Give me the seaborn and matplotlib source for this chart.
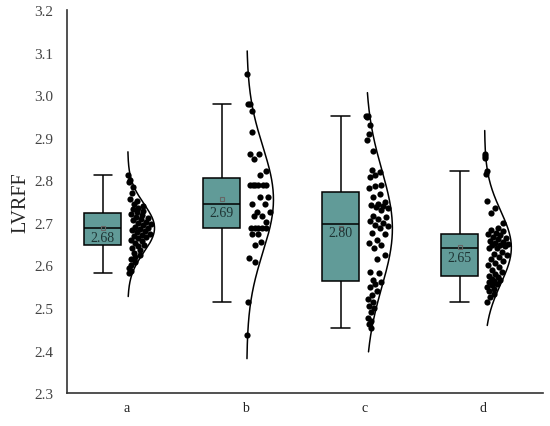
import numpy as np
import pandas as pd
import matplotlib
matplotlib.use('Agg')
import matplotlib.pyplot as plt
import seaborn as sns

# values
groups = ['a', 'b', 'c', 'd']
vals_a = [2.812, 2.800, 2.795, 2.785, 2.770, 2.755, 2.751, 2.744, 2.740, 2.735,
          2.733, 2.728, 2.725, 2.722, 2.718, 2.715, 2.712, 2.710, 2.706, 2.703,
          2.700, 2.697, 2.694, 2.690, 2.688, 2.686, 2.684, 2.681, 2.678, 2.675,
          2.672, 2.670, 2.667, 2.664, 2.660, 2.657, 2.652, 2.648, 2.645, 2.640,
          2.636, 2.630, 2.625, 2.620, 2.614, 2.607, 2.600, 2.594, 2.588, 2.582]
vals_b = [3.049, 2.980, 2.980, 2.964, 2.913, 2.861, 2.861, 2.849, 2.823, 2.812,
          2.789, 2.789, 2.789, 2.789, 2.789, 2.789, 2.761, 2.761, 2.744, 2.744,
          2.726, 2.726, 2.716, 2.716, 2.703, 2.689, 2.689, 2.689, 2.689, 2.689,
          2.673, 2.673, 2.654, 2.648, 2.617, 2.607, 2.515, 2.436]
vals_c = [2.951, 2.950, 2.948, 2.931, 2.910, 2.895, 2.870, 2.825, 2.820, 2.812,
          2.808, 2.790, 2.787, 2.782, 2.769, 2.762, 2.748, 2.745, 2.742, 2.740,
          2.738, 2.735, 2.731, 2.716, 2.714, 2.710, 2.705, 2.700, 2.696, 2.693,
          2.688, 2.677, 2.674, 2.660, 2.652, 2.649, 2.640, 2.625, 2.615, 2.585,
          2.582, 2.565, 2.560, 2.556, 2.550, 2.540, 2.530, 2.520, 2.515, 2.505,
          2.500, 2.490, 2.477, 2.470, 2.462, 2.452]
vals_d = [2.862, 2.858, 2.852, 2.822, 2.815, 2.751, 2.735, 2.723, 2.700, 2.688,
          2.684, 2.680, 2.677, 2.675, 2.672, 2.668, 2.665, 2.662, 2.658, 2.655,
          2.653, 2.651, 2.649, 2.647, 2.645, 2.642, 2.640, 2.632, 2.628, 2.625,
          2.620, 2.615, 2.610, 2.605, 2.600, 2.596, 2.590, 2.585, 2.580, 2.575,
          2.572, 2.569, 2.566, 2.563, 2.560, 2.557, 2.554, 2.550, 2.545, 2.540,
          2.534, 2.525, 2.514]
box_labels = ['2.68', '2.69', '2.80', '2.65']
y_ticks = [2.3, 2.4, 2.5, 2.6, 2.7, 2.8, 2.9, 3.0, 3.1, 3.2]

all_vals = [vals_a, vals_b, vals_c, vals_d]
df = pd.concat([pd.DataFrame({'group': g, 'LVRFF': v}) for g, v in zip(groups, all_vals)],
               ignore_index=True)
df['pos'] = df['group'].map({g: i for i, g in enumerate(groups)}) - 0.2

sns.set_style('white')
plt.rcParams['font.family'] = ['Liberation Serif', 'DejaVu Serif']

fig = plt.figure(figsize=(5.5, 4.27), dpi=100)
ax = fig.add_axes([0.122, 0.077, 0.865, 0.897])

box_color = '#619b98'
sns.boxplot(data=df, x='pos', y='LVRFF', orient='x', native_scale=True, width=0.31,
            color=box_color, saturation=1, linecolor='black', linewidth=1.1,
            showfliers=False, showmeans=True,
            meanprops=dict(marker='s', markerfacecolor='none', markeredgecolor='#666666',
                           markersize=3.5, markeredgewidth=0.8),
            ax=ax)

# half "cloud" curves and dots
half_w = 0.225
margin = 0.055
golden = 0.6180339887
for i, v in enumerate(all_vals):
    v = np.asarray(v)
    m, s = v.mean(), v.std(ddof=1)
    yy = np.linspace(v.min() - margin, v.max() + margin, 300)
    pdf = np.exp(-0.5 * ((yy - m) / s) ** 2)
    ax.plot(i + 0.01 + half_w * pdf, yy, color='black', lw=1.1)
    dens = np.exp(-0.5 * ((v - m) / s) ** 2)
    frac = 0.12 + 0.78 * ((np.arange(len(v)) * golden) % 1.0)
    xs = i + 0.01 + frac * half_w * dens
    ax.scatter(xs, v, s=20, color='black', linewidths=0, zorder=3)

    med = np.median(v)
    ax.annotate(box_labels[i], (i - 0.2, med), xytext=(0, -1.5), textcoords='offset points',
                ha='center', va='top', fontsize=10, color='#1e3434', zorder=4)

ax.set_xlim(-0.5, 3.5)
ax.set_ylim(2.3, 3.2)
ax.set_xticks(range(len(groups)))
ax.set_xticklabels(groups)
ax.set_yticks(y_ticks)
ax.set_yticklabels([f'{t:.1f}' for t in y_ticks])
ax.tick_params(axis='y', length=0, pad=10, labelsize=11, labelcolor='#444444')
ax.tick_params(axis='x', length=0, pad=6, labelsize=10, labelcolor='#222222')
ax.set_xlabel('')
ax.set_ylabel('LVRFF', fontsize=14.5, labelpad=3)
sns.despine(ax=ax)
for sp in ['left', 'bottom']:
    ax.spines[sp].set_color('#333333')
    ax.spines[sp].set_linewidth(1.2)

fig.savefig('out.png', dpi=100)
